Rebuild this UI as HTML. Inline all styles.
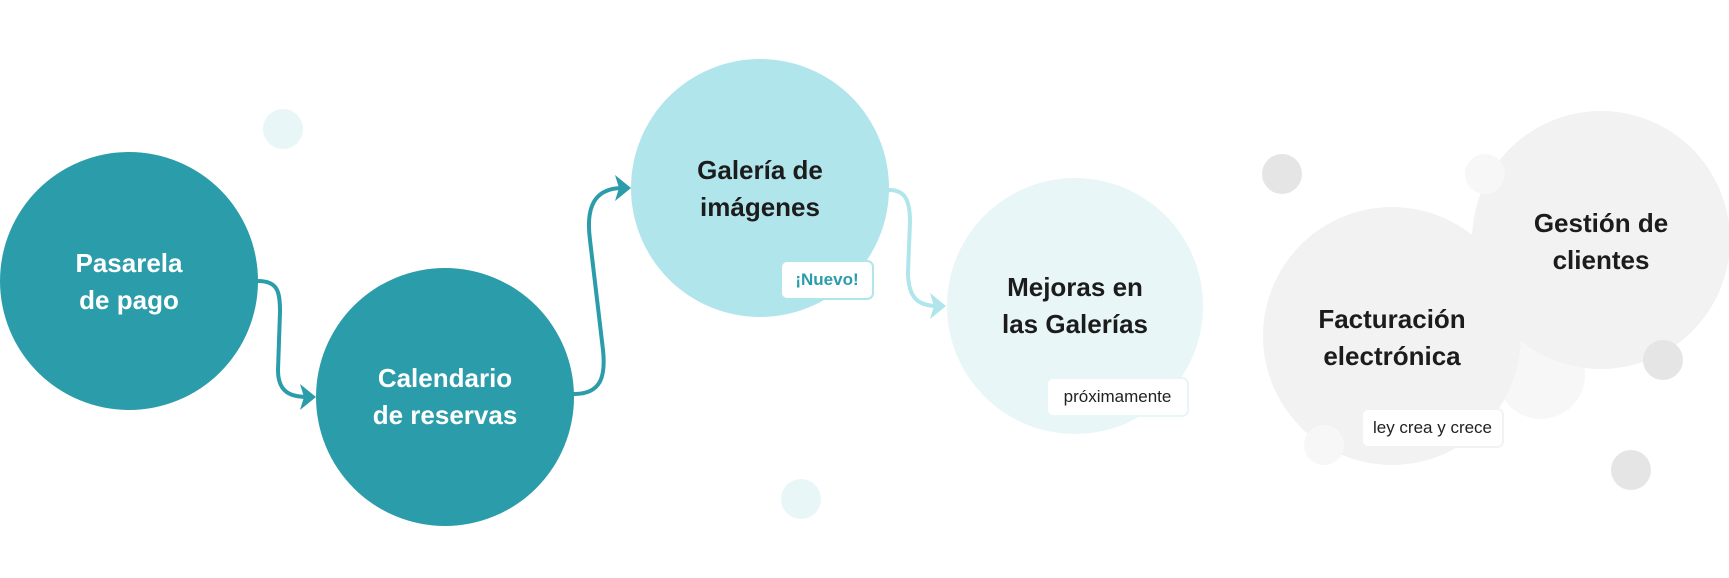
<!DOCTYPE html>
<html><head><meta charset="utf-8"><style>
html,body{margin:0;padding:0;background:#fff;}
body{width:1729px;height:578px;overflow:hidden;position:relative;font-family:"Liberation Sans",sans-serif;}
.c{position:absolute;border-radius:50%;}
.t{position:absolute;text-align:center;font-weight:bold;font-size:26px;line-height:37px;transform:translate(-50%,-50%);white-space:nowrap;}
.b{position:absolute;background:#fff;border-radius:7px;font-size:17px;display:flex;align-items:center;justify-content:center;box-sizing:border-box;}
</style></head><body>
<div class="c" style="left:1497px;top:331px;width:88px;height:88px;background:#f7f7f7"></div>
<div class="c" style="left:1472px;top:111px;width:258px;height:258px;background:#f2f2f2"></div>
<div class="c" style="left:1263px;top:207px;width:258px;height:258px;background:#f2f2f2"></div>
<div class="c" style="left:0px;top:152px;width:258px;height:258px;background:#2b9ca9"></div>
<div class="c" style="left:316px;top:268px;width:258px;height:258px;background:#2b9ca9"></div>
<div class="c" style="left:631px;top:59px;width:258px;height:258px;background:#afe5eb"></div>
<div class="c" style="left:947px;top:178px;width:256px;height:256px;background:#e8f6f8"></div>
<div class="c" style="left:263px;top:109px;width:40px;height:40px;background:#e8f6f8"></div>
<div class="c" style="left:781px;top:479px;width:40px;height:40px;background:#e8f6f8"></div>
<div class="c" style="left:1262px;top:154px;width:40px;height:40px;background:#e5e5e5"></div>
<div class="c" style="left:1465px;top:154px;width:40px;height:40px;background:#f7f7f7"></div>
<div class="c" style="left:1643px;top:340px;width:40px;height:40px;background:#e5e5e5"></div>
<div class="c" style="left:1304px;top:425px;width:40px;height:40px;background:#f7f7f7"></div>
<div class="c" style="left:1611px;top:450px;width:40px;height:40px;background:#e5e5e5"></div>
<svg width="1729" height="578" style="position:absolute;left:0;top:0">
<g fill="none" stroke-width="4" stroke-linecap="round" stroke-linejoin="round">
<path d="M258,281 C278,281 280,292 280,312 L278,370 C278,392 290,397 308,397" stroke="#2b9ca9"/>
<path d="M574,394 C600,394 606,378 603,350 L590,240 C585,202 598,188 623,188" stroke="#2b9ca9"/>
<path d="M889,190 C905,190 910,200 910,222 L908,272 C908,300 920,306 938,306" stroke="#afe5eb"/>
</g>
<polygon points="300,384 316,397 300,410 304,397" fill="#2b9ca9"/>
<polygon points="615,175 631,188 615,201 619,188" fill="#2b9ca9"/>
<polygon points="930,293 946,306 930,319 934,306" fill="#afe5eb"/>
</svg>
<div class="t" style="left:129px;top:282px;color:#fff">Pasarela<br>de pago</div>
<div class="t" style="left:445px;top:397px;color:#fff">Calendario<br>de reservas</div>
<div class="t" style="left:760px;top:189px;color:#1c1c1c">Galería de<br>imágenes</div>
<div class="t" style="left:1075px;top:306px;color:#1c1c1c">Mejoras en<br>las Galerías</div>
<div class="t" style="left:1392px;top:338px;color:#1c1c1c">Facturación<br>electrónica</div>
<div class="t" style="left:1601px;top:242px;color:#1c1c1c">Gestión de<br>clientes</div>
<div class="b" style="left:780px;top:260px;width:94px;height:40px;border:2px solid #afe5eb;color:#2b9ca9;font-weight:bold">¡Nuevo!</div>
<div class="b" style="left:1046px;top:377px;width:143px;height:40px;border:2px solid #e8f6f8;color:#222">próximamente</div>
<div class="b" style="left:1361px;top:408px;width:143px;height:40px;border:2px solid #f2f2f2;color:#222">ley crea y crece</div>
</body></html>
